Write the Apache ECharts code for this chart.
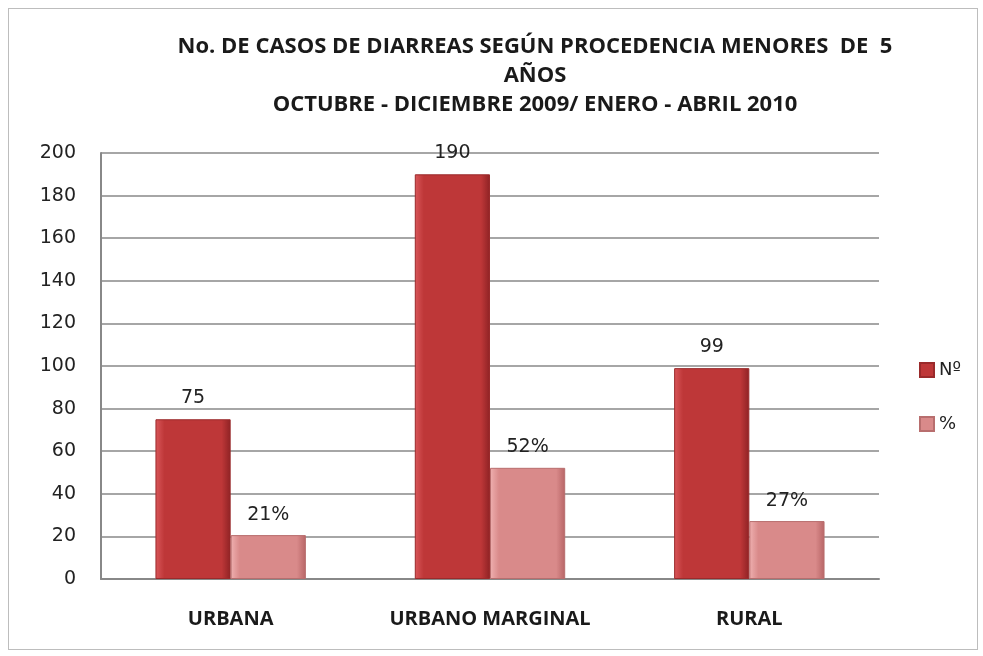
<!DOCTYPE html>
<html>
<head>
<meta charset="UTF-8">
<title>Casos de diarreas</title>
<script type="text/javascript" src="https://cdn.jsdelivr.net/npm/echarts@6/dist/echarts.min.js"></script>
<style>
body{margin:0;background:#fff;}
#chart{position:absolute;left:8px;top:8px;width:970px;height:642px;border:1px solid #bdbdbd;box-sizing:border-box;}
</style>
</head>
<body>
<div id="chart"></div>
<script type="text/javascript">
// datos
var categorias = ['URBANA', 'URBANO MARGINAL', 'RURAL'];
var numero = [75, 190, 99];
var porcentaje = [20.6, 52.2, 27.2];
var yTicks = [0, 20, 40, 60, 80, 100, 120, 140, 160, 180, 200];

var myChart = echarts.init(document.getElementById('chart'));
var fuenteTitulo = 'Open Sans';
var fuenteNum = 'DejaVu Sans';

function grad(c1, c2, c3) {
	return new echarts.graphic.LinearGradient(0, 0, 1, 0, [
		{offset: 0, color: c1},
		{offset: 0.12, color: c2},
		{offset: 0.88, color: c2},
		{offset: 1, color: c3}
	]);
}

var option = {
	animation: false,
	textStyle: {fontFamily: fuenteNum},
	title: {
		text: 'No. DE CASOS DE DIARREAS SEGÚN PROCEDENCIA MENORES  DE  5\nAÑOS\nOCTUBRE - DICIEMBRE 2009/ ENERO - ABRIL 2010',
		left: 521,
		textAlign: 'center',
		top: 18,
		textStyle: {fontSize: 22, fontWeight: 'bold', color: '#1a1a1a', lineHeight: 29, fontFamily: fuenteTitulo}
	},
	legend: {
		orient: 'vertical',
		left: 905,
		top: 347,
		icon: 'rect',
		itemWidth: 14,
		itemHeight: 14,
		itemGap: 36,
		textStyle: {fontSize: 18, color: '#222', fontFamily: fuenteNum},
		data: ['Nº', '%']
	},
	grid: {left: 92, top: 144, width: 778, height: 426},
	xAxis: {
		type: 'category',
		data: categorias,
		axisTick: {show: false},
		axisLine: {lineStyle: {color: '#888', width: 2}},
		axisLabel: {interval: 0, fontSize: 20, fontWeight: 'bold', color: '#1a1a1a', margin: 30, fontFamily: fuenteTitulo}
	},
	yAxis: {
		type: 'value',
		min: yTicks[0],
		max: yTicks[yTicks.length - 1],
		interval: 20,
		axisLine: {show: true, lineStyle: {color: '#888', width: 2}},
		axisTick: {show: false},
		splitLine: {lineStyle: {color: '#888', width: 1.5}},
		axisLabel: {fontSize: 19, color: '#222', margin: 25}
	},
	series: [
		{
			name: 'Nº',
			type: 'bar',
			data: numero,
			barGap: '0%',
			barCategoryGap: '42%',
			itemStyle: {color: grad('#d9575a', '#be3738', '#8e2224'), borderColor: '#9a2a2b', borderWidth: 1},
			label: {show: true, position: 'top', distance: 12, fontSize: 19, color: '#222'}
		},
		{
			name: '%',
			type: 'bar',
			data: porcentaje,
			itemStyle: {color: grad('#efb0b0', '#d98a8a', '#b76566'), borderColor: '#b86e6e', borderWidth: 1},
			label: {show: true, position: 'top', distance: 11, fontSize: 19, color: '#222',
				formatter: function(p){ return Math.round(p.value) + '%'; }}
		}
	]
};
myChart.setOption(option);
</script>
</body>
</html>
